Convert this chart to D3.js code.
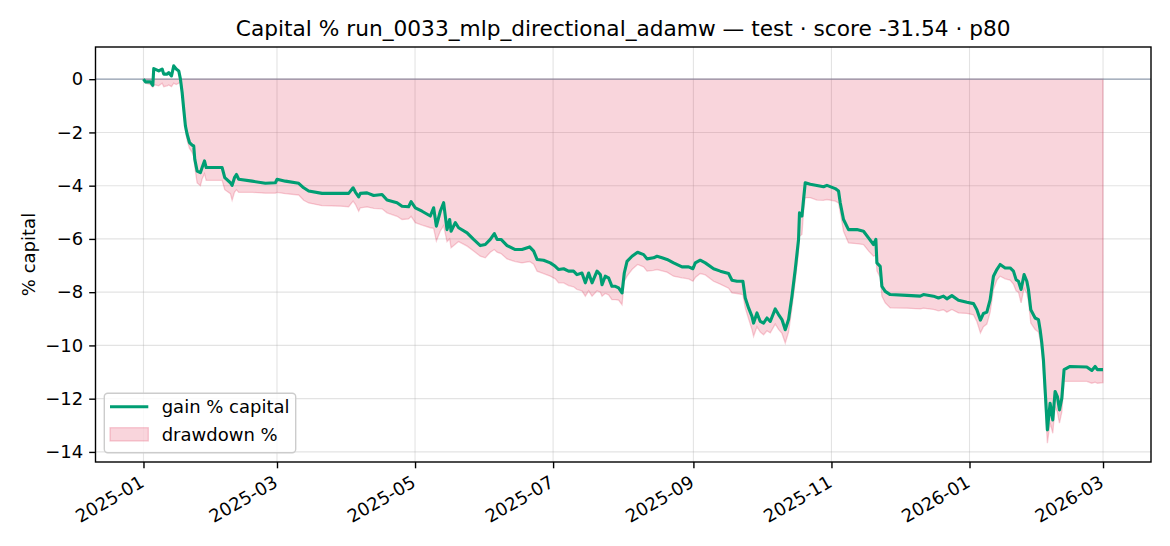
<!DOCTYPE html>
<html><head><meta charset="utf-8">
<script src="https://cdn.jsdelivr.net/npm/d3@7"></script>
<style>body{margin:0;background:#fff} svg{display:block;font-family:"DejaVu Sans",sans-serif}</style>
</head><body><svg id="c" width="1170" height="546"></svg>
<script>
const times=[
"2025-01-01T00","2025-01-01T21","2025-01-04T02","2025-01-05T03","2025-01-05T13","2025-01-07T18","2025-01-09T06","2025-01-09T23","2025-01-11T11","2025-01-12T04",
"2025-01-13T09","2025-01-14T09","2025-01-15T11","2025-01-16T14","2025-01-17T08","2025-01-18T02","2025-01-18T19","2025-01-19T13","2025-01-20T07","2025-01-21T08",
"2025-01-22T12","2025-01-23T05","2025-01-23T16","2025-01-24T17","2025-01-26T04","2025-01-26T22","2025-01-27T23","2025-01-28T17","2025-02-04T18","2025-02-05T22",
"2025-02-08T10","2025-02-09T04","2025-02-10T05","2025-02-11T02","2025-02-12T02","2025-02-18T00","2025-02-23T21","2025-02-28T07","2025-03-01T01","2025-03-04T17",
"2025-03-10T14","2025-03-12T19","2025-03-15T00","2025-03-20T22","2025-03-29T00","2025-04-01T16","2025-04-03T15","2025-04-04T15","2025-04-06T02","2025-04-06T20",
"2025-04-09T19","2025-04-12T17","2025-04-16T10","2025-04-18T15","2025-04-23T01","2025-04-25T06","2025-04-28T04","2025-04-29T06","2025-05-01T03","2025-05-04T02",
"2025-05-07T18","2025-05-09T05","2025-05-10T10","2025-05-12T04","2025-05-13T15","2025-05-15T03","2025-05-16T07","2025-05-16T22","2025-05-18T19","2025-05-20T06",
"2025-05-24T00","2025-05-26T21","2025-05-29T20","2025-06-01T01","2025-06-03T06","2025-06-05T01","2025-06-06T06","2025-06-08T00","2025-06-10T16","2025-06-14T07",
"2025-06-17T06","2025-06-20T15","2025-06-22T10","2025-06-23T22","2025-06-26T19","2025-06-29T18","2025-07-01T23","2025-07-03T11","2025-07-05T16","2025-07-07T20",
"2025-07-10T01","2025-07-11T13","2025-07-13T18","2025-07-15T06","2025-07-16T17","2025-07-18T05","2025-07-20T10","2025-07-21T21","2025-07-22T15","2025-07-24T01",
"2025-07-25T12","2025-07-27T00","2025-07-28T12","2025-07-29T23","2025-07-31T11","2025-08-01T11","2025-08-02T16","2025-08-04T21","2025-08-07T08","2025-08-10T00",
"2025-08-11T12","2025-08-14T10","2025-08-15T22","2025-08-18T03","2025-08-20T08","2025-08-23T06","2025-08-26T23","2025-08-29T21","2025-08-31T19","2025-09-01T20",
"2025-09-04T00","2025-09-06T06","2025-09-09T22","2025-09-12T21","2025-09-16T13","2025-09-18T01","2025-09-20T06","2025-09-22T21","2025-09-23T22","2025-09-25T09",
"2025-09-26T21","2025-09-27T14","2025-09-29T02","2025-09-30T13","2025-10-02T00","2025-10-03T12","2025-10-04T23","2025-10-07T04","2025-10-08T15","2025-10-10T03",
"2025-10-11T14","2025-10-13T01","2025-10-14T13","2025-10-16T00","2025-10-17T11","2025-10-17T21","2025-10-18T23","2025-10-19T16","2025-10-20T10","2025-10-22T15",
"2025-10-25T14","2025-10-28T12","2025-10-30T00","2025-11-02T16","2025-11-04T03","2025-11-04T21","2025-11-06T08","2025-11-08T13","2025-11-12T06","2025-11-15T04",
"2025-11-17T09","2025-11-19T14","2025-11-20T15","2025-11-21T02","2025-11-22T13","2025-11-23T07","2025-11-24T18","2025-11-26T23","2025-12-04T08","2025-12-10T05",
"2025-12-11T16","2025-12-16T02","2025-12-18T07","2025-12-20T12","2025-12-22T00","2025-12-24T05","2025-12-27T03","2025-12-30T20","2026-01-02T18","2026-01-04T06",
"2026-01-05T20","2026-01-07T04","2026-01-08T16","2026-01-10T03","2026-01-11T14","2026-01-13T02","2026-01-14T13","2026-01-16T18","2026-01-18T23","2026-01-20T10",
"2026-01-21T14","2026-01-22T15","2026-01-23T19","2026-01-25T03","2026-01-26T08","2026-01-27T01","2026-01-28T02","2026-01-30T00","2026-01-31T11","2026-02-01T05",
"2026-02-01T23","2026-02-02T16","2026-02-03T10","2026-02-04T10","2026-02-05T15","2026-02-06T19","2026-02-07T20","2026-02-08T20","2026-02-09T18","2026-02-10T19",
"2026-02-11T19","2026-02-14T11","2026-02-21T20","2026-02-24T01","2026-02-25T12","2026-02-26T12","2026-03-01T00"
];
const gain=[
0.00,-0.10,-0.10,-0.23,0.40,0.31,0.38,0.19,0.19,0.25,
0.12,0.50,0.38,0.31,0.00,-0.50,-1.13,-1.76,-2.07,-2.38,
-2.48,-2.51,-3.01,-3.45,-3.51,-3.32,-3.07,-3.32,-3.32,-3.70,
-3.89,-3.99,-3.70,-3.58,-3.76,-3.83,-3.91,-3.89,-3.76,-3.83,
-3.91,-4.08,-4.20,-4.29,-4.29,-4.29,-4.08,-4.24,-4.42,-4.29,
-4.27,-4.37,-4.33,-4.54,-4.64,-4.77,-4.79,-4.60,-4.83,-4.96,
-5.14,-4.83,-5.52,-4.96,-4.64,-5.65,-5.27,-5.71,-5.39,-5.58,
-5.77,-6.02,-6.25,-6.21,-6.02,-5.80,-6.02,-6.02,-6.25,-6.40,
-6.40,-6.30,-6.46,-6.77,-6.80,-6.90,-7.03,-7.15,-7.12,-7.21,
-7.21,-7.34,-7.28,-7.65,-7.28,-7.65,-7.21,-7.34,-7.72,-7.40,
-7.46,-7.78,-7.78,-7.84,-8.03,-7.28,-6.84,-6.65,-6.50,-6.59,
-6.75,-6.71,-6.65,-6.71,-6.77,-6.90,-7.05,-7.05,-7.12,-6.90,
-6.80,-6.90,-7.12,-7.21,-7.30,-7.55,-7.59,-7.59,-8.22,-8.59,
-8.91,-9.16,-8.78,-9.10,-9.16,-8.97,-9.10,-8.63,-8.84,-9.03,
-9.41,-9.03,-8.15,-7.15,-6.02,-5.02,-5.14,-4.52,-3.89,-3.95,
-3.99,-4.04,-3.99,-4.11,-4.20,-4.64,-5.27,-5.65,-5.65,-5.71,
-5.96,-6.21,-6.02,-6.90,-7.03,-7.78,-7.97,-8.09,-8.12,-8.15,
-8.09,-8.15,-8.22,-8.15,-8.25,-8.13,-8.30,-8.38,-8.43,-8.66,
-9.05,-8.80,-8.75,-8.28,-7.40,-7.15,-6.96,-7.09,-7.09,-7.21,
-7.53,-7.59,-7.90,-7.34,-7.59,-7.90,-8.66,-8.97,-9.03,-9.41,
-9.91,-10.54,-11.67,-13.17,-12.17,-12.80,-11.73,-11.92,-12.42,-11.98,
-10.91,-10.79,-10.81,-10.94,-10.79,-10.91,-10.91
];
const drawdown=[
0.00,-0.15,-0.20,-0.30,-0.20,-0.25,-0.15,-0.28,-0.25,-0.22,
-0.28,-0.15,-0.20,-0.15,-0.10,-0.60,-1.30,-1.95,-2.30,-2.60,
-2.75,-2.90,-3.30,-3.90,-4.00,-3.75,-3.55,-3.80,-3.80,-4.15,
-4.30,-4.55,-4.25,-4.15,-4.25,-4.25,-4.28,-4.28,-4.25,-4.30,
-4.35,-4.55,-4.65,-4.75,-4.77,-4.79,-4.58,-4.70,-4.96,-4.83,
-4.80,-4.85,-4.87,-5.02,-5.15,-5.27,-5.25,-5.15,-5.39,-5.48,
-5.58,-5.60,-6.08,-5.70,-5.50,-6.10,-6.00,-6.33,-6.20,-6.10,
-6.27,-6.45,-6.65,-6.71,-6.50,-6.40,-6.50,-6.55,-6.75,-6.85,
-6.90,-6.85,-6.95,-7.21,-7.30,-7.40,-7.50,-7.65,-7.65,-7.75,
-7.80,-7.90,-7.95,-8.15,-7.95,-8.15,-7.95,-8.00,-8.15,-8.05,
-8.10,-8.28,-8.28,-8.30,-8.47,-7.60,-7.40,-7.15,-6.96,-7.05,
-7.21,-7.18,-7.15,-7.20,-7.25,-7.40,-7.46,-7.50,-7.59,-7.45,
-7.30,-7.35,-7.59,-7.70,-7.85,-8.03,-8.05,-8.09,-8.60,-9.00,
-9.40,-9.66,-9.30,-9.50,-9.60,-9.45,-9.53,-9.20,-9.40,-9.55,
-9.91,-9.50,-8.60,-7.60,-6.52,-5.90,-5.83,-5.00,-4.45,-4.45,
-4.54,-4.55,-4.52,-4.58,-4.65,-5.00,-5.71,-6.15,-6.18,-6.21,
-6.45,-6.65,-6.60,-7.20,-7.45,-8.15,-8.40,-8.59,-8.60,-8.63,
-8.60,-8.65,-8.70,-8.66,-8.75,-8.65,-8.78,-8.80,-8.85,-9.10,
-9.53,-9.30,-9.20,-8.75,-7.90,-7.55,-7.40,-7.50,-7.55,-7.70,
-7.95,-8.00,-8.40,-7.85,-8.05,-8.35,-9.16,-9.40,-9.50,-9.79,
-10.30,-11.00,-12.20,-13.67,-12.90,-13.30,-12.30,-12.50,-12.92,-12.50,
-11.35,-11.35,-11.35,-11.42,-11.38,-11.42,-11.40
];
const xTickDates=["2025-01-01","2025-03-01","2025-05-01","2025-07-01","2025-09-01","2025-11-01","2026-01-01","2026-03-01"];
const yTicks=[0,-2,-4,-6,-8,-10,-12,-14];
const titleText="Capital % run_0033_mlp_directional_adamw — test · score -31.54 · p80";
const yLabelText="% capital";
const legendLabels=["gain % capital","drawdown %"];

const GREEN="#009E73", RED="crimson";
const parse=d3.timeParse("%Y-%m-%dT%H"), parseDay=d3.timeParse("%Y-%m-%d");
const data=times.map((t,i)=>({t:parse(t),g:gain[i],d:drawdown[i]}));
const m={l:95.5,r:1151,t:47,b:462};
const [t0,t1]=d3.extent(data,d=>d.t), span=t1-t0;
const x=d3.scaleTime().domain([new Date(+t0-0.05*span),new Date(+t1+0.05*span)]).range([m.l,m.r]);
const ymin=d3.min(data,d=>Math.min(d.g,d.d)), ymax=d3.max(data,d=>Math.max(d.g,d.d,0)), yr=ymax-ymin;
const y=d3.scaleLinear().domain([ymin-0.05*yr,ymax+0.05*yr]).range([m.b,m.t]);

const svg=d3.select("#c");
svg.append("rect").attr("width",1170).attr("height",546).attr("fill","#fff");
svg.append("defs").append("clipPath").attr("id","clip").append("rect")
  .attr("x",m.l).attr("y",m.t).attr("width",m.r-m.l).attr("height",m.b-m.t);

const xt=xTickDates.map(parseDay);
const grid=svg.append("g").attr("stroke","#b0b0b0").attr("stroke-opacity",0.35).attr("stroke-width",1.1);
grid.selectAll(".gx").data(xt).join("line").attr("x1",d=>x(d)).attr("x2",d=>x(d)).attr("y1",m.t).attr("y2",m.b);
grid.selectAll(".gy").data(yTicks).join("line").attr("y1",d=>y(d)).attr("y2",d=>y(d)).attr("x1",m.l).attr("x2",m.r);

const plot=svg.append("g").attr("clip-path","url(#clip)");
plot.append("path").datum(data)
  .attr("d",d3.area().x(d=>x(d.t)).y0(()=>y(0)).y1(d=>y(d.d)))
  .attr("fill",RED).attr("fill-opacity",0.18)
  .attr("stroke",RED).attr("stroke-opacity",0.2).attr("stroke-width",1.3);
plot.append("line").attr("x1",m.l).attr("x2",m.r).attr("y1",y(0)).attr("y2",y(0))
  .attr("stroke","#7d8ca3").attr("stroke-opacity",0.8).attr("stroke-width",1.2);
plot.append("path").datum(data)
  .attr("d",d3.line().x(d=>x(d.t)).y(d=>y(d.g)))
  .attr("fill","none").attr("stroke",GREEN).attr("stroke-width",3.1).attr("stroke-linejoin","round");

svg.append("rect").attr("x",m.l).attr("y",m.t).attr("width",m.r-m.l).attr("height",m.b-m.t)
  .attr("fill","none").attr("stroke","#000").attr("stroke-width",1.4);

const xa=svg.append("g").attr("transform",`translate(0,${m.b})`)
  .call(d3.axisBottom(x).tickValues(xt).tickFormat(d3.timeFormat("%Y-%m")).tickSize(6.3).tickSizeOuter(0));
xa.select(".domain").remove();
xa.selectAll("line").attr("stroke-width",1.4);
xa.selectAll("text").attr("x",0).attr("y",0).attr("dy","0.72em")
  .attr("transform","translate(-5,12.5) rotate(-30)").attr("text-anchor","end")
  .attr("font-size",18).attr("font-family","DejaVu Sans").attr("fill","#000");

const ya=svg.append("g").attr("transform",`translate(${m.l},0)`)
  .call(d3.axisLeft(y).tickValues(yTicks).tickFormat(d3.format("d")).tickSize(6.3).tickPadding(6).tickSizeOuter(0));
ya.select(".domain").remove();
ya.selectAll("line").attr("stroke-width",1.4);
ya.selectAll("text").attr("font-size",18).attr("font-family","DejaVu Sans").attr("fill","#000");

svg.append("text").attr("transform",`translate(28,${(m.t+m.b)/2}) rotate(-90)`)
  .attr("text-anchor","middle").attr("dominant-baseline","central").attr("font-size",18).text(yLabelText);

svg.append("text").attr("x",(m.l+m.r)/2).attr("y",35.5).attr("text-anchor","middle")
  .attr("font-size",21.7).text(titleText);

const lg=svg.append("g");
lg.append("rect").attr("x",104.3).attr("y",393.3).attr("width",191.4).attr("height",59.4).attr("rx",3.5)
  .attr("fill","#fff").attr("fill-opacity",0.8).attr("stroke","#cccccc").attr("stroke-width",1.4);
lg.append("line").attr("x1",110).attr("x2",148.3).attr("y1",406.7).attr("y2",406.7)
  .attr("stroke",GREEN).attr("stroke-width",3.1);
lg.append("rect").attr("x",110).attr("y",427.7).attr("width",38.3).attr("height",13.3)
  .attr("fill",RED).attr("fill-opacity",0.18).attr("stroke",RED).attr("stroke-opacity",0.2).attr("stroke-width",1.3);
lg.selectAll(".lt").data(legendLabels).join("text").attr("x",161.7).attr("y",(d,i)=>i?434.3:406.7)
  .attr("dominant-baseline","central").attr("font-size",18).text(d=>d);
</script></body></html>
